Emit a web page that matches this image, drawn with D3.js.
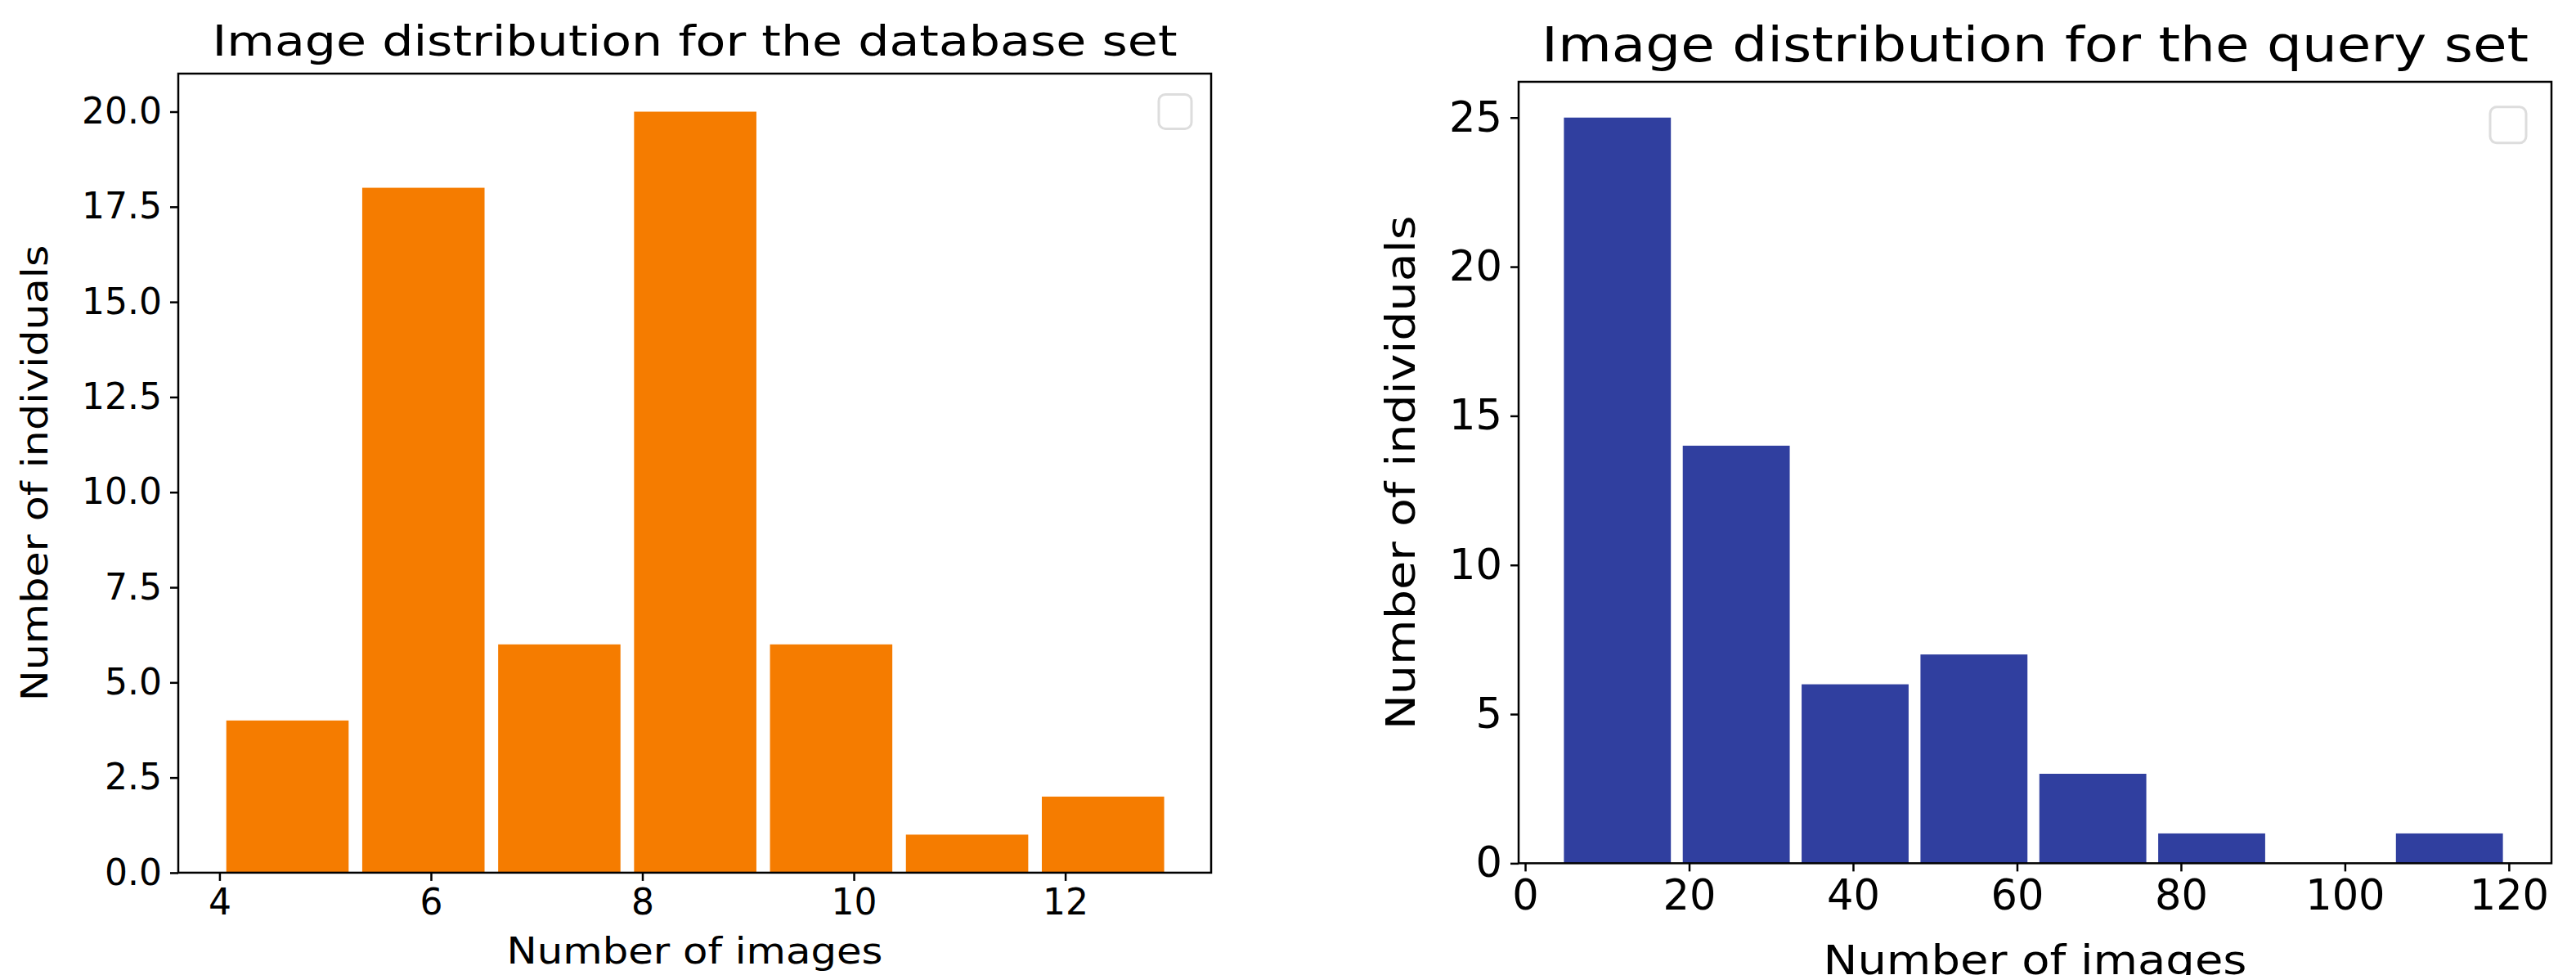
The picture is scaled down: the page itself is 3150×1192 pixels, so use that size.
<!DOCTYPE html>
<html>
<head>
<meta charset="utf-8">
<script src="https://cdn.jsdelivr.net/npm/d3@7"></script>
<style>
  body { margin: 0; background: #fff; }
  svg { display: block; }
  text { font-family: "DejaVu Sans", sans-serif; fill: #000; }
</style>
</head>
<body>
<div id="chart"></div>
<script>
// Left histogram: database set (7 bins from 4 to 13)
const dbEdges = [4, 13];
const dbCounts = [4, 18, 6, 20, 6, 1, 2];
const dbXTicks = [4, 6, 8, 10, 12];
const dbYTicks = [0, 2.5, 5, 7.5, 10, 12.5, 15, 17.5, 20];

// Right histogram: query set (8 bins from 4 to 120)
const qEdges = [4, 120];
const qCounts = [25, 14, 6, 7, 3, 1, 0, 1];
const qXTicks = [0, 20, 40, 60, 80, 100, 120];
const qYTicks = [0, 5, 10, 15, 20, 25];

const W = 3150, H = 1192, K = 1.3; // K: vertical factor of my measuring crops

const svg = d3.select("#chart").append("svg")
  .attr("width", W).attr("height", H);

function histPanel(cfg) {
  const x = d3.scaleLinear().domain(cfg.xDomain).range([cfg.left, cfg.right]);
  const y = d3.scaleLinear().domain(cfg.yDomain).range([cfg.bottom, cfg.top]);
  const n = cfg.counts.length;
  const bw = (cfg.edges[1] - cfg.edges[0]) / n;
  const g = svg.append("g");

  g.selectAll("rect.bar")
    .data(cfg.counts)
    .join("rect")
    .attr("class", "bar")
    .attr("x", (d, i) => x(cfg.edges[0] + i * bw + bw * 0.05))
    .attr("width", x(cfg.edges[0] + bw * 0.9) - x(cfg.edges[0]))
    .attr("y", d => y(d))
    .attr("height", d => y(0) - y(d))
    .attr("fill", cfg.color);

  // frame
  g.append("rect")
    .attr("x", cfg.left).attr("y", cfg.top)
    .attr("width", cfg.right - cfg.left).attr("height", cfg.bottom - cfg.top)
    .attr("fill", "none").attr("stroke", "#000").attr("stroke-width", 2.5);

  // x axis
  const xa = g.append("g")
    .attr("transform", `translate(0,${cfg.bottom})`)
    .call(d3.axisBottom(x).tickValues(cfg.xTicks).tickSize(10).tickPadding(10))
    .call(a => a.select(".domain").remove());
  xa.selectAll(".tick line").attr("stroke", "#000").attr("stroke-width", 2.5);
  xa.selectAll(".tick text").style("font-size", cfg.tickFont + "px")
    .attr("dy", "0.71em");

  // y axis
  const ya = g.append("g")
    .attr("transform", `translate(${cfg.left},0)`)
    .call(d3.axisLeft(y).tickValues(cfg.yTicks).tickSize(10).tickPadding(10)
      .tickFormat(cfg.yFormat))
    .call(a => a.select(".domain").remove());
  ya.selectAll(".tick line").attr("stroke", "#000").attr("stroke-width", 2.5);
  ya.selectAll(".tick text").style("font-size", cfg.tickFont + "px");

  // empty legend box
  g.append("rect")
    .attr("x", cfg.legend[0]).attr("y", cfg.legend[1])
    .attr("width", cfg.legend[2]).attr("height", cfg.legend[3])
    .attr("rx", 8).attr("fill", "#fff").attr("stroke", "#ddd").attr("stroke-width", 3);

  // title
  g.append("text")
    .attr("x", (cfg.left + cfg.right) / 2).attr("y", cfg.titleY)
    .attr("text-anchor", "middle")
    .attr("textLength", cfg.titleLen).attr("lengthAdjust", "spacingAndGlyphs")
    .style("font-size", cfg.titleFont + "px")
    .text(cfg.title);

  // x label
  g.append("text")
    .attr("x", (cfg.left + cfg.right) / 2).attr("y", cfg.xLabelY)
    .attr("text-anchor", "middle")
    .attr("textLength", cfg.xLabelLen).attr("lengthAdjust", "spacingAndGlyphs")
    .style("font-size", cfg.labelFont + "px")
    .text("Number of images");

  // y label
  g.append("text")
    .attr("transform", `translate(${cfg.yLabelX},${(cfg.top + cfg.bottom) / 2}) rotate(-90)`)
    .attr("text-anchor", "middle")
    .attr("textLength", cfg.yLabelLen).attr("lengthAdjust", "spacingAndGlyphs")
    .style("font-size", cfg.labelFont + "px")
    .text("Number of individuals");
}

histPanel({
  counts: dbCounts, edges: dbEdges, color: "#f57c00",
  xDomain: [3.61, 13.38], yDomain: [0, 21],
  left: 218, right: 1481, top: 117 / K, bottom: 1387 / K,
  xTicks: dbXTicks, yTicks: dbYTicks, yFormat: d3.format(".1f"),
  tickFont: 44, titleFont: 52, labelFont: 44,
  title: "Image distribution for the database set", titleY: 88 / K, titleLen: 1180,
  xLabelY: 1532 / K, xLabelLen: 460,
  yLabelX: 58, yLabelLen: 725 / K,
  legend: [1417, 150 / K, 40, 42]
});

histPanel({
  counts: qCounts, edges: qEdges, color: "#303f9f",
  xDomain: [-0.8, 125.2], yDomain: [0, 26.2],
  left: 1857, right: 3120, top: 130 / K, bottom: 1372 / K,
  xTicks: qXTicks, yTicks: qYTicks, yFormat: d3.format("d"),
  tickFont: 51, titleFont: 58, labelFont: 50,
  title: "Image distribution for the query set", titleY: 98 / K, titleLen: 1207,
  xLabelY: 1548 / K, xLabelLen: 518,
  yLabelX: 1575 + 155, yLabelLen: 817 / K,
  legend: [1575 + 1470, 170 / K, 44, 44]
});
</script>
</body>
</html>
